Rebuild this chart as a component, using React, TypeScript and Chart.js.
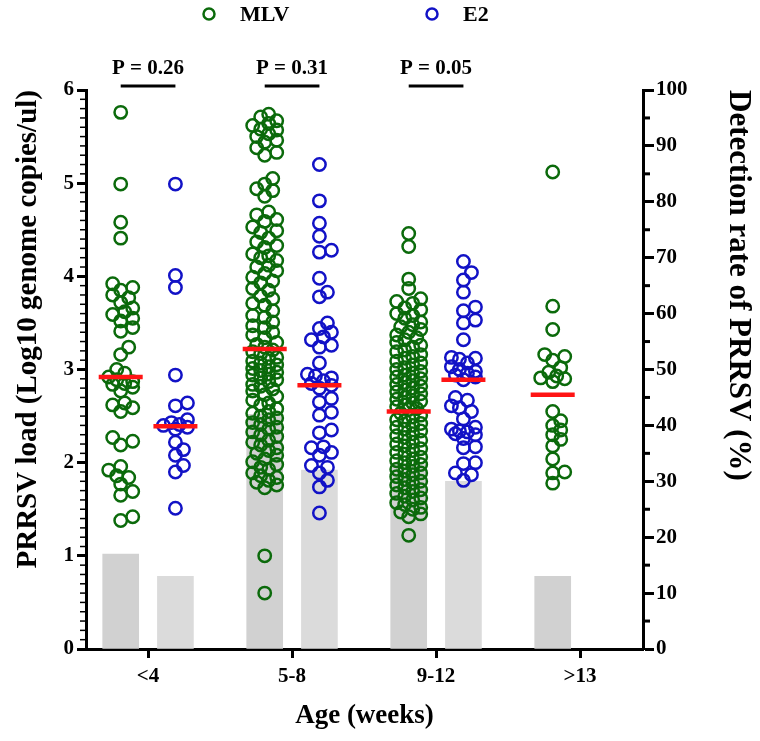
import React, { useEffect, useRef } from 'react';
import { Chart, registerables } from 'chart.js';

Chart.register(...registerables);

const FONT = "'Liberation Serif', 'Times New Roman', serif";

// ---------- data ----------
const categories = ['<4', '5-8', '9-12', '>13'];
const seriesNames = ['MLV', 'E2'];
const detectionMLV = [17, 42, 33, 13];
const detectionE2 = [13, 32, 30, null];
const medianMLV = [2.92, 3.22, 2.55, 2.73];
const medianE2 = [2.39, 2.83, 2.89, null];
const pValues = ['P = 0.26', 'P = 0.31', 'P = 0.05'];

const mlvUnder4 = [5.76, 4.99, 4.58, 4.41, 3.92, 3.88, 3.85, 3.80, 3.77, 3.72, 3.66, 3.62, 3.59, 3.55, 3.52, 3.45, 3.41, 3.24, 3.16, 3.00, 2.96, 2.92, 2.89, 2.87, 2.85, 2.84, 2.81, 2.77, 2.64, 2.62, 2.59, 2.55, 2.27, 2.23, 2.19, 1.96, 1.92, 1.86, 1.84, 1.77, 1.69, 1.65, 1.42, 1.38];
const mlv5to8 = [5.74, 5.71, 5.67, 5.64, 5.62, 5.58, 5.57, 5.53, 5.50, 5.46, 5.44, 5.38, 5.33, 5.30,
  5.05, 4.99, 4.94, 4.92, 4.86,
  4.69, 4.66, 4.61, 4.59, 4.53, 4.49, 4.47, 4.41, 4.37, 4.33, 4.31, 4.24, 4.22, 4.20, 4.17, 4.12, 4.10, 4.06, 4.03, 3.99,
  3.95, 3.93, 3.87, 3.85, 3.79, 3.76, 3.71, 3.69, 3.63, 3.58, 3.56, 3.51, 3.47, 3.45, 3.40, 3.37, 3.34, 3.29, 3.27, 3.24,
  3.21, 3.19, 3.17, 3.13, 3.12, 3.09, 3.07, 3.05, 3.03, 3.01, 2.99, 2.97, 2.95, 2.94, 2.91, 2.89, 2.87, 2.84, 2.82, 2.79,
  2.77, 2.73, 2.71, 2.67, 2.64, 2.62, 2.58, 2.55, 2.53, 2.50, 2.48, 2.46, 2.43, 2.41, 2.38, 2.36, 2.33, 2.30, 2.28, 2.24,
  2.22, 2.19, 2.16, 2.13, 2.10, 2.08, 2.04, 2.01, 1.98, 1.95, 1.93, 1.89, 1.86, 1.84, 1.81, 1.79, 1.76, 1.73, 1.00, 0.60];
const mlv9to12 = [4.46, 4.32, 3.97, 3.87,
  3.76, 3.73, 3.71, 3.66, 3.64, 3.60, 3.58, 3.55, 3.51, 3.48, 3.46, 3.43, 3.40, 3.37, 3.34, 3.32, 3.29, 3.26, 3.24, 3.21,
  3.19, 3.16, 3.14, 3.12, 3.09, 3.07, 3.05, 3.02, 3.00, 2.98, 2.96, 2.94, 2.92, 2.90, 2.88, 2.86, 2.84, 2.82, 2.80, 2.78,
  2.76, 2.74, 2.72, 2.70, 2.68, 2.66, 2.64, 2.62, 2.60, 2.58, 2.57,
  2.53, 2.51, 2.49, 2.46, 2.45, 2.42, 2.40, 2.38, 2.36, 2.34, 2.31, 2.29, 2.27, 2.24, 2.22, 2.20, 2.18, 2.15, 2.13, 2.11,
  2.09, 2.06, 2.04, 2.02, 2.00, 1.98, 1.96, 1.93, 1.91, 1.89, 1.87, 1.85, 1.82, 1.80, 1.78, 1.76, 1.73, 1.71, 1.69, 1.67,
  1.64, 1.62, 1.60, 1.57, 1.55, 1.52, 1.50, 1.47, 1.45, 1.42, 1.22];
const mlvOver13 = [5.12, 3.68, 3.43, 3.16, 3.14, 3.10, 3.02, 2.97, 2.93, 2.91, 2.90, 2.87, 2.55, 2.45, 2.40, 2.35, 2.30, 2.25, 2.18, 2.04, 1.90, 1.89, 1.78];
const e2Under4 = [4.99, 4.01, 3.88, 2.94, 2.64, 2.61, 2.46, 2.43, 2.41, 2.40, 2.38, 2.36, 2.22, 2.14, 2.08, 1.97, 1.90, 1.51];
const e2_5to8 = [5.20, 4.81, 4.57, 4.43, 4.28, 4.26, 3.98, 3.83, 3.78, 3.50, 3.44, 3.40, 3.35, 3.32, 3.26, 3.24, 3.07, 2.95, 2.93, 2.91, 2.88, 2.85, 2.83, 2.80, 2.69, 2.65, 2.54, 2.51, 2.35, 2.32, 2.17, 2.16, 2.11, 2.08, 1.97, 1.95, 1.89, 1.81, 1.74, 1.46];
const e2_9to12 = [4.16, 4.04, 3.96, 3.83, 3.67, 3.63, 3.53, 3.50, 3.32, 3.13, 3.12, 3.11, 3.07, 3.03, 3.00, 2.98, 2.96, 2.94, 2.92, 2.89, 2.70, 2.67, 2.61, 2.59, 2.55, 2.47, 2.38, 2.36, 2.34, 2.33, 2.31, 2.30, 2.26, 2.17, 2.16, 2.00, 1.99, 1.89, 1.87, 1.81];

const mlvGroups = [mlvUnder4, mlv5to8, mlv9to12, mlvOver13];
const e2Groups = [e2Under4, e2_5to8, e2_9to12, []];

// ---------- layout helpers ----------
const OFF = 0.19; // sub-group offset from category centre (x units)
const X_MIN = 0.569;
const X_MAX = 4.437;
const PX_X = 144; // approx px per x unit (for swarm spacing)
const PX_Y = 93.2; // approx px per y unit
const GREEN = '#0b6a0b';
const BLUE = '#1212c6';
const RED = '#ff1414';

function swarm(values: number[], center: number) {
  const cands = [0, 4, -4, 8, -8, 12, -12];
  const minD = 9;
  const placed: { px: number; py: number }[] = [];
  const res: { x: number; y: number }[] = new Array(values.length);
  const order = values.map((_, i) => i).sort((a, b) => values[a] - values[b]);
  for (const i of order) {
    const py = values[i] * PX_Y;
    let best = 0;
    let bestD = -1;
    for (const c of cands) {
      let dmin = Infinity;
      for (const p of placed) {
        const d = Math.hypot(p.px - c, p.py - py);
        if (d < dmin) dmin = d;
      }
      if (dmin >= minD) { best = c; bestD = dmin; break; }
      if (dmin > bestD) { bestD = dmin; best = c; }
    }
    placed.push({ px: best, py });
    res[i] = { x: center + best / PX_X, y: values[i] };
  }
  return res;
}

const decorPlugin = {
  id: 'decor',
  afterDraw(chart: any) {
    const { ctx, chartArea } = chart;
    const xs = chart.scales.x;
    const ys = chart.scales.y;
    const y1 = chart.scales.y1;
    ctx.save();
    ctx.strokeStyle = '#000';
    // left minor ticks
    ctx.lineWidth = 1.5;
    for (let k = 1; k < 60; k++) {
      if (k % 10 === 0) continue;
      const py = ys.getPixelForValue(k / 10);
      ctx.beginPath();
      ctx.moveTo(chartArea.left - 6, py);
      ctx.lineTo(chartArea.left, py);
      ctx.stroke();
    }
    // right minor ticks
    ctx.lineWidth = 3;
    for (let v = 5; v < 100; v += 10) {
      const py = y1.getPixelForValue(v);
      ctx.beginPath();
      ctx.moveTo(chartArea.right, py);
      ctx.lineTo(chartArea.right + 7, py);
      ctx.stroke();
    }
    // P-value brackets
    ctx.font = `bold 21px ${FONT}`;
    ctx.fillStyle = '#000';
    ctx.textAlign = 'center';
    ctx.textBaseline = 'middle';
    pValues.forEach((t, i) => {
      const cx = xs.getPixelForValue(i + 1);
      const x0 = xs.getPixelForValue(i + 1 - OFF);
      const x1 = xs.getPixelForValue(i + 1 + OFF);
      const ly = chartArea.top - 4;
      ctx.lineWidth = 3;
      ctx.beginPath();
      ctx.moveTo(x0, ly);
      ctx.lineTo(x1, ly);
      ctx.stroke();
      ctx.fillText(t, cx, ly - 17);
    });
    // legend
    const items = [
      { label: seriesNames[0], color: GREEN, x: chartArea.left + 123 },
      { label: seriesNames[1], color: BLUE, x: chartArea.left + 346 },
    ];
    ctx.font = `bold 22px ${FONT}`;
    ctx.textAlign = 'left';
    items.forEach((it) => {
      ctx.beginPath();
      ctx.lineWidth = 2.5;
      ctx.strokeStyle = it.color;
      ctx.arc(it.x, 14, 5.5, 0, Math.PI * 2);
      ctx.stroke();
      ctx.fillText(it.label, it.x + 31, 15);
    });
    ctx.restore();
  },
};

export default function App() {
  const ref = useRef<HTMLCanvasElement>(null);
  useEffect(() => {
    document.body.style.margin = '0';
    const mlvPts = mlvGroups.flatMap((g, i) => swarm(g, i + 1 - OFF));
    const e2Pts = e2Groups.flatMap((g, i) => swarm(g, i + 1 + OFF));
    const medians = [
      ...medianMLV.map((m, i) => (m == null ? null : { x: i + 1 - OFF, y: m })),
      ...medianE2.map((m, i) => (m == null ? null : { x: i + 1 + OFF, y: m })),
    ].filter(Boolean);
    const barMLV = detectionMLV.map((v, i) => ({ x: i + 1 - OFF, y: v }));
    const barE2 = detectionE2
      .map((v, i) => (v == null ? null : { x: i + 1 + OFF, y: v }))
      .filter(Boolean);
    const tickFont = { family: FONT, size: 21, weight: 'bold' as const };
    const xTitleFont = { family: FONT, size: 27, weight: 'bold' as const };
    const yTitleFont = { family: FONT, size: 29, weight: 'bold' as const };
    const y1TitleFont = { family: FONT, size: 31, weight: 'bold' as const };

    const chart = new Chart(ref.current!, {
      type: 'bar',
      data: {
        datasets: [
          {
            type: 'scatter',
            label: 'median',
            data: medians as any,
            yAxisID: 'y',
            pointStyle: 'line',
            pointRadius: 22,
            borderWidth: 4.5,
            borderColor: RED,
            backgroundColor: RED,
            order: 1,
          } as any,
          {
            type: 'scatter',
            label: seriesNames[0],
            data: mlvPts,
            yAxisID: 'y',
            pointStyle: 'circle',
            pointRadius: 6.2,
            borderWidth: 2.5,
            borderColor: GREEN,
            backgroundColor: 'rgba(0,0,0,0)',
            order: 2,
          },
          {
            type: 'scatter',
            label: seriesNames[1],
            data: e2Pts,
            yAxisID: 'y',
            pointStyle: 'circle',
            pointRadius: 6.2,
            borderWidth: 2.5,
            borderColor: BLUE,
            backgroundColor: 'rgba(0,0,0,0)',
            order: 2,
          },
          {
            type: 'bar',
            label: 'MLV detection',
            data: barMLV as any,
            yAxisID: 'y1',
            backgroundColor: '#d1d1d1',
            barThickness: 36,
            grouped: false,
            order: 3,
          },
          {
            type: 'bar',
            label: 'E2 detection',
            data: barE2 as any,
            yAxisID: 'y1',
            backgroundColor: '#dbdbdb',
            barThickness: 36,
            grouped: false,
            order: 3,
          },
        ],
      },
      options: {
        responsive: true,
        maintainAspectRatio: false,
        animation: false,
        events: [],
        layout: { padding: { top: 90, left: 0, right: 0, bottom: 0 } },
        plugins: { legend: { display: false }, tooltip: { enabled: false } },
        scales: {
          x: {
            type: 'linear',
            min: X_MIN,
            max: X_MAX,
            offset: false,
            afterBuildTicks: (s: any) => {
              s.ticks = categories.map((_, i) => ({ value: i + 1 }));
            },
            afterFit: (s: any) => { s.height = 92; },
            ticks: {
              callback: (v: any) => categories[Math.round(v) - 1] ?? '',
              font: tickFont,
              color: '#000',
              padding: 6,
              maxRotation: 0,
              autoSkip: false,
            },
            grid: { offset: false, drawOnChartArea: false, drawTicks: true, tickLength: 9, tickWidth: 3, tickColor: '#000' },
            border: { display: true, color: '#000', width: 3 },
            title: { display: true, text: 'Age (weeks)', font: xTitleFont, color: '#000', padding: { top: 0, bottom: 9 } },
          },
          y: {
            type: 'linear',
            position: 'left',
            min: 0,
            max: 6,
            afterFit: (s: any) => { s.width = 86; },
            ticks: { stepSize: 1, font: tickFont, color: '#000', padding: 3 },
            grid: { drawOnChartArea: false, drawTicks: true, tickLength: 9, tickWidth: 3, tickColor: '#000' },
            border: { display: true, color: '#000', width: 3 },
            title: {
              display: true,
              align: 'end',
              text: 'PRRSV load (Log10 genome copies/ul)',
              font: yTitleFont,
              color: '#000',
              padding: { top: 11, bottom: 0 },
            },
          },
          y1: {
            type: 'linear',
            position: 'right',
            min: 0,
            max: 100,
            afterFit: (s: any) => { s.width = 117; },
            ticks: { stepSize: 10, font: tickFont, color: '#000', padding: 2 },
            grid: { drawOnChartArea: false, drawTicks: true, tickLength: 11, tickWidth: 3, tickColor: '#000' },
            border: { display: true, color: '#000', width: 3 },
            title: {
              display: true,
              align: 'end',
              text: 'Detection rate of PRRSV (%)',
              font: y1TitleFont,
              color: '#000',
              padding: { top: 3, bottom: 0 },
            },
          },
        },
      } as any,
      plugins: [decorPlugin],
    });
    return () => chart.destroy();
  }, []);

  return (
    <div style={{ position: 'relative', width: 760, height: 741 }}>
      <canvas ref={ref} />
    </div>
  );
}
